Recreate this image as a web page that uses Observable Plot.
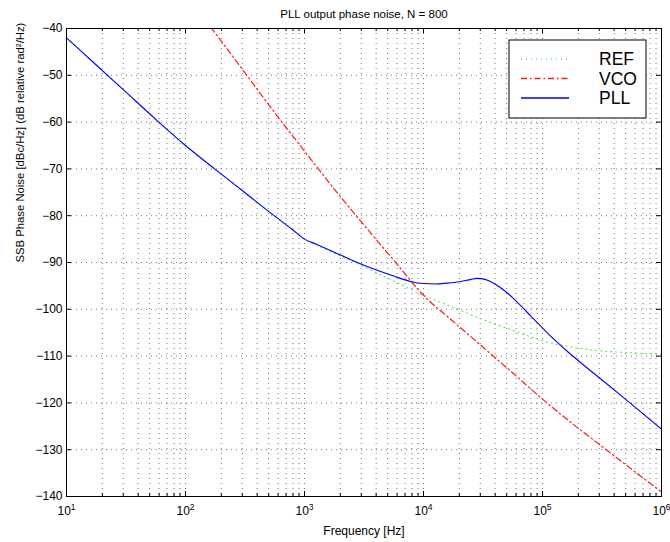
<!DOCTYPE html>
<html><head><meta charset="utf-8">
<script src="https://cdn.jsdelivr.net/npm/d3@7"></script>
<script src="https://cdn.jsdelivr.net/npm/@observablehq/plot@0.6"></script>
<style>body{margin:0;background:#fff} svg{display:block}</style>
</head><body><div id="chart"></div>
<script>
const title = "PLL output phase noise, N = 800";
const xLabel = "Frequency [Hz]";
const yLabel = "SSB Phase Noise [dBc/Hz] (dB relative rad\u00B2/Hz)";

const seriesNames = ["REF", "VCO", "PLL"];
const seriesColors = ["#55ee55", "#ff1a1a", "#0000ff"];
const seriesDash = ["1,4", "6,3,1.5,3", null];

// log10(frequency) and dB values
const refLogF = [1.0, 1.25, 1.5, 1.75, 2.0, 2.25, 2.5, 2.75, 2.9, 3.0, 3.1, 3.25, 3.5, 3.75, 4.0, 4.25, 4.5, 4.75, 5.0, 5.25, 5.5, 5.75, 6.0];
const refDb   = [-42, -47.8, -53.6, -59.4, -65, -70.1, -75.1, -80.1, -83.0, -85, -86.2, -88.0, -90.9, -94.0, -97.0, -99.6, -102.2, -104.5, -106.7, -108.1, -108.9, -109.3, -109.6];

const vcoLogF = [2.0, 2.25, 2.5, 2.75, 3.0, 3.25, 3.5, 3.75, 4.0, 4.25, 4.5, 4.75, 5.0, 5.25, 5.5, 5.75, 6.0];
const vcoDb   = [-33, -41, -49.5, -58, -66.2, -74.3, -82, -89.5, -97, -102.6, -108.1, -113.6, -119.2, -124.4, -129.3, -134.2, -139.0];

const pllLogF = [1.0, 1.25, 1.5, 1.75, 2.0, 2.25, 2.5, 2.75, 2.9, 3.0, 3.1, 3.25, 3.5, 3.75, 3.9, 4.0, 4.1, 4.2, 4.3, 4.4, 4.45, 4.5, 4.55, 4.6, 4.7, 4.8, 4.9, 5.0, 5.1, 5.2, 5.35, 5.5, 5.75, 6.0];
const pllDb   = [-42, -47.8, -53.6, -59.4, -65, -70.1, -75.1, -80.1, -83.0, -85, -86.1, -87.8, -90.6, -92.9, -94.1, -94.5, -94.6, -94.4, -94.1, -93.6, -93.4, -93.5, -93.9, -94.6, -96.4, -98.8, -101.4, -104.0, -106.5, -108.8, -112.0, -115.1, -120.3, -125.6];

const xMajorTicks = [1e1, 1e2, 1e3, 1e4, 1e5, 1e6];
const yTicks = [-40, -50, -60, -70, -80, -90, -100, -110, -120, -130, -140];

const toRows = (lf, db, name) => lf.map((v, i) => ({f: Math.pow(10, v), db: db[i], name}));
const refRows = toRows(refLogF, refDb, "REF");
const vcoRows = toRows(vcoLogF, vcoDb, "VCO");
const pllRows = toRows(pllLogF, pllDb, "PLL");
const minorTicks = [];
for (let i = 0; i < xMajorTicks.length - 1; i++) for (let k = 2; k <= 9; k++) minorTicks.push(xMajorTicks[i] * k);
const allXTicks = xMajorTicks.concat(minorTicks);

const W = 670, H = 542, mL = 66, mR = 9, mT = 28, mB = 46;
const fw = W - mL - mR, fh = H - mT - mB;
const font = "'Liberation Sans', Arial, Helvetica, sans-serif";

const plot = Plot.plot({
  width: W, height: H,
  marginLeft: mL, marginRight: mR, marginTop: mT, marginBottom: mB,
  style: {fontFamily: font, fontSize: "11px", background: "#fff", color: "#000", overflow: "visible"},
  x: {type: "log", domain: [1e1, 1e6]},
  y: {domain: [-140, -40]},
  marks: [
    Plot.gridX(allXTicks, {stroke: "#777", strokeOpacity: 1, strokeWidth: 1, strokeDasharray: "1,4"}),
    Plot.gridY(yTicks, {stroke: "#777", strokeOpacity: 1, strokeWidth: 1, strokeDasharray: "1,4"}),
    Plot.line(refRows, {x: "f", y: "db", stroke: seriesColors[0], strokeWidth: 1.2, strokeDasharray: seriesDash[0], curve: "monotone-x", clip: true}),
    Plot.line(vcoRows, {x: "f", y: "db", stroke: seriesColors[1], strokeWidth: 1.2, strokeDasharray: seriesDash[1], curve: "monotone-x", clip: true}),
    Plot.line(pllRows, {x: "f", y: "db", stroke: seriesColors[2], strokeWidth: 1.1, curve: "monotone-x", clip: true}),
    Plot.frame({stroke: "#000", strokeWidth: 1}),
    // inward tick marks on all four sides
    Plot.tickX(xMajorTicks, {x: d => d, insetTop: fh - 5, stroke: "#000"}),
    Plot.tickX(xMajorTicks, {x: d => d, insetBottom: fh - 5, stroke: "#000"}),
    Plot.tickX(minorTicks, {x: d => d, insetTop: fh - 3, stroke: "#000"}),
    Plot.tickX(minorTicks, {x: d => d, insetBottom: fh - 3, stroke: "#000"}),
    Plot.tickY(yTicks, {y: d => d, insetRight: fw - 5, stroke: "#000"}),
    Plot.tickY(yTicks, {y: d => d, insetLeft: fw - 5, stroke: "#000"}),
    Plot.axisX(xMajorTicks, {tickSize: 0, tickPadding: 10, label: null, fontSize: 12, tickFormat: d => "10^" + Math.round(Math.log10(d))}),
    Plot.axisY(yTicks, {tickSize: 0, tickPadding: 4, label: null, fontSize: 12}),
    Plot.text([xLabel], {frameAnchor: "bottom", dy: 38, text: d => d, fontSize: 12}),
    Plot.text([yLabel], {frameAnchor: "left", rotate: -90, dx: -46, text: d => d, fontSize: 11.3}),
    Plot.text([title], {frameAnchor: "top", dy: -19, text: d => d, fontSize: 11.5})
  ]
});

document.getElementById("chart").appendChild(plot);
const svg = d3.select(plot);

// superscript exponents on the x tick labels
svg.selectAll('g[aria-label="x-axis tick label"] text').each(function() {
  const t = d3.select(this);
  const s = t.text();
  const parts = s.split("^");
  if (parts.length !== 2) return;
  t.text(parts[0]);
  t.append("tspan").attr("dy", "-0.55em").attr("font-size", "8.5px").text(parts[1]);
});

// legend box (top right, inside the frame)
const lgW = 137, lgH = 78;
const lgX = W - mR - 15 - lgW, lgY = mT + 12;
const lg = svg.append("g").attr("font-family", font).attr("text-anchor", "start");
lg.append("rect").attr("x", lgX).attr("y", lgY).attr("width", lgW).attr("height", lgH)
  .attr("fill", "#fff").attr("stroke", "#000").attr("stroke-width", 1);
seriesNames.forEach((name, i) => {
  const yy = lgY + 19 + i * 19.5;
  const ln = lg.append("line").attr("x1", lgX + 12).attr("x2", lgX + 60).attr("y1", yy).attr("y2", yy)
    .attr("stroke", seriesColors[i]).attr("stroke-width", 1.3);
  if (seriesDash[i]) ln.attr("stroke-dasharray", seriesDash[i]);
  lg.append("text").attr("x", lgX + 90).attr("y", yy).attr("dy", "0.36em")
    .attr("text-anchor", "start").attr("font-size", "17.5px").attr("fill", "#000").text(name);
});
</script>
</body></html>
